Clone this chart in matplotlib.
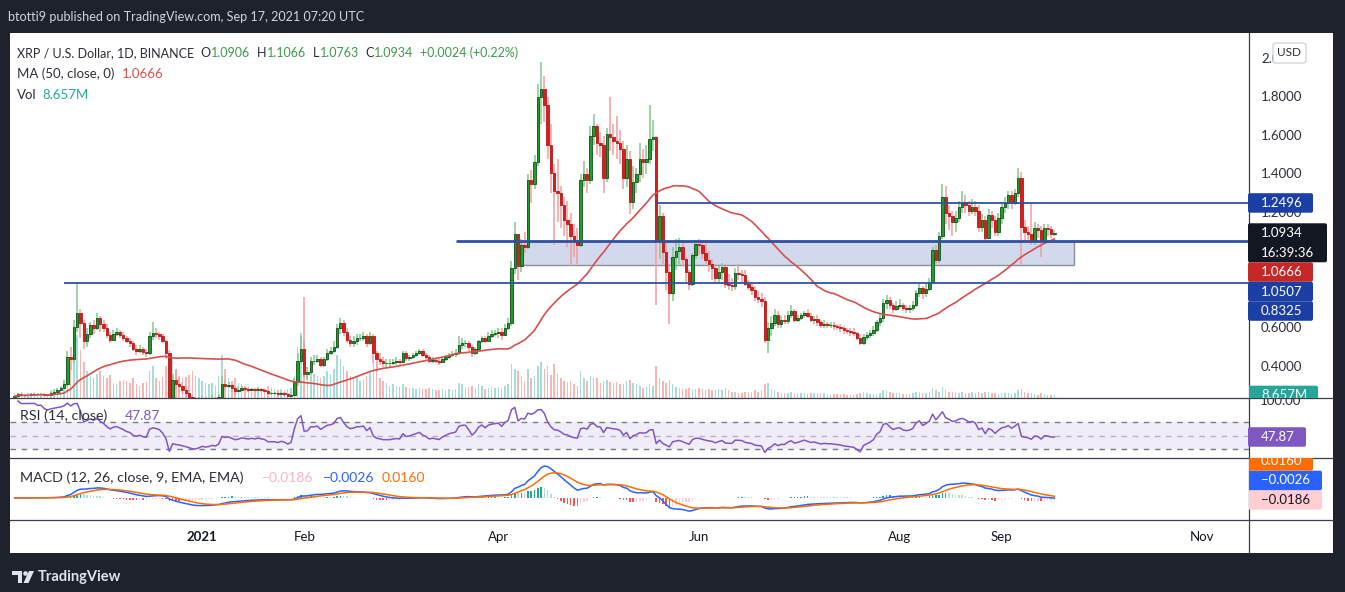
import numpy as np
import pandas as pd
import matplotlib
matplotlib.use("Agg")
import matplotlib.pyplot as plt
import matplotlib.dates as mdates
from matplotlib.patches import Rectangle, FancyBboxPatch, Polygon, Circle

W, H = 1345, 592
plt.rcParams["font.family"] = ["Lato", "DejaVu Sans"]

# --- XRP / USD daily candles, 2020-11-05 .. 2021-09-17 ---
FIRST_OPEN = 0.240
closes = [
    # Nov
    0.245, 0.255, 0.25, 0.25, 0.252, 0.255, 0.258, 0.255, 0.257, 0.252, 0.25, 0.262, 0.27, 0.28, 0.29, 0.31,
    0.45, 0.44, 0.605, 0.68, 0.625, 0.53, 0.57, 0.615, 0.60, 0.65,
    # Dec
    0.62, 0.60, 0.565, 0.54, 0.57, 0.58, 0.565, 0.55, 0.53, 0.52, 0.49, 0.48, 0.49, 0.475, 0.47, 0.56,
    0.575, 0.57, 0.56, 0.53, 0.47, 0.23, 0.33, 0.31, 0.30, 0.28, 0.26, 0.24, 0.21, 0.21, 0.22,
    # Jan
    0.235, 0.22, 0.225, 0.235, 0.225, 0.24, 0.31, 0.30, 0.305, 0.29, 0.275, 0.28, 0.29, 0.285, 0.28, 0.285,
    0.28, 0.285, 0.28, 0.275, 0.26, 0.26, 0.26, 0.255, 0.26, 0.255, 0.245, 0.25, 0.32, 0.43, 0.49,
    # Feb
    0.36, 0.37, 0.43, 0.43, 0.44, 0.41, 0.44, 0.47, 0.48, 0.50, 0.60, 0.625, 0.58, 0.54, 0.52, 0.53,
    0.55, 0.55, 0.56, 0.52, 0.56, 0.47, 0.44, 0.43, 0.42, 0.42, 0.42, 0.425,
    # Mar
    0.43, 0.425, 0.47, 0.445, 0.45, 0.46, 0.47, 0.48, 0.46, 0.45, 0.43, 0.435, 0.43, 0.425, 0.44, 0.45,
    0.46, 0.465, 0.47, 0.51, 0.52, 0.52, 0.50, 0.47, 0.49, 0.53, 0.55, 0.535, 0.56, 0.57, 0.575,
    # Apr
    0.58, 0.565, 0.60, 0.625, 0.91, 1.09, 0.92, 1.03, 1.02, 1.37, 1.35, 1.46, 1.80, 1.84, 1.76, 1.55,
    1.405, 1.31, 1.30, 1.24, 1.16, 1.14, 1.08, 1.05, 1.03, 1.37, 1.40, 1.37, 1.60, 1.65,
    # May
    1.56, 1.55, 1.38, 1.61, 1.59, 1.57, 1.56, 1.53, 1.38, 1.48, 1.255, 1.36, 1.40, 1.48, 1.46, 1.48,
    1.58, 1.59, 1.05, 1.18, 0.995, 0.89, 0.78, 0.97, 1.00, 1.02, 0.96, 0.89, 0.83, 0.98, 1.035,
    # Jun
    1.03, 0.99, 0.955, 0.93, 0.91, 0.86, 0.89, 0.915, 0.83, 0.825, 0.82, 0.885, 0.88, 0.875, 0.83, 0.815,
    0.80, 0.76, 0.75, 0.74, 0.54, 0.60, 0.625, 0.67, 0.62, 0.64, 0.635, 0.67, 0.69, 0.64,
    # Jul
    0.65, 0.665, 0.68, 0.66, 0.64, 0.645, 0.63, 0.615, 0.62, 0.615, 0.615, 0.61, 0.605, 0.60, 0.59, 0.585,
    0.58, 0.575, 0.55, 0.52, 0.555, 0.565, 0.575, 0.59, 0.63, 0.65, 0.73, 0.745, 0.72, 0.70, 0.715,
    # Aug
    0.72, 0.705, 0.70, 0.705, 0.72, 0.78, 0.81, 0.78, 0.805, 0.84, 1.005, 0.955, 1.08, 1.28, 1.20, 1.18,
    1.15, 1.17, 1.23, 1.255, 1.24, 1.21, 1.23, 1.21, 1.125, 1.16, 1.07, 1.185, 1.16, 1.10, 1.17,
    # Sep
    1.23, 1.25, 1.29, 1.25, 1.30, 1.38, 1.125, 1.10, 1.09, 1.05, 1.12, 1.11, 1.05, 1.12, 1.115, 1.0906, 1.0934,
]
highs = [
    0.25, 0.26, 0.258, 0.256, 0.258, 0.26, 0.262, 0.262, 0.262, 0.26, 0.256, 0.266, 0.278, 0.29, 0.30, 0.33,
    0.48, 0.50, 0.64, 0.8325, 0.70, 0.64, 0.60, 0.63, 0.64, 0.68,
    0.66, 0.64, 0.62, 0.58, 0.59, 0.60, 0.59, 0.58, 0.56, 0.55, 0.53, 0.51, 0.51, 0.50, 0.49, 0.58,
    0.63, 0.60, 0.58, 0.57, 0.54, 0.48, 0.36, 0.38, 0.34, 0.32, 0.30, 0.28, 0.25, 0.23, 0.24,
    0.245, 0.24, 0.235, 0.25, 0.24, 0.255, 0.35, 0.33, 0.32, 0.31, 0.30, 0.295, 0.30, 0.30, 0.295, 0.29,
    0.29, 0.295, 0.29, 0.285, 0.28, 0.27, 0.27, 0.265, 0.27, 0.265, 0.26, 0.26, 0.34, 0.47, 0.56,
    0.76, 0.40, 0.45, 0.46, 0.46, 0.45, 0.45, 0.49, 0.50, 0.53, 0.62, 0.65, 0.64, 0.60, 0.56, 0.56,
    0.57, 0.57, 0.58, 0.57, 0.58, 0.57, 0.48, 0.47, 0.45, 0.44, 0.44, 0.44,
    0.45, 0.44, 0.48, 0.48, 0.46, 0.47, 0.48, 0.49, 0.49, 0.47, 0.46, 0.45, 0.44, 0.44, 0.45, 0.46,
    0.47, 0.48, 0.49, 0.56, 0.55, 0.54, 0.53, 0.51, 0.50, 0.54, 0.56, 0.56, 0.58, 0.59, 0.59,
    0.60, 0.60, 0.62, 0.65, 0.95, 1.15, 1.08, 1.06, 1.10, 1.40, 1.42, 1.50, 1.87, 1.98, 1.91, 1.80,
    1.66, 1.45, 1.48, 1.34, 1.28, 1.26, 1.20, 1.14, 1.12, 1.40, 1.47, 1.43, 1.65, 1.71,
    1.66, 1.62, 1.60, 1.64, 1.80, 1.66, 1.70, 1.63, 1.57, 1.55, 1.52, 1.44, 1.43, 1.56, 1.53, 1.55,
    1.76, 1.68, 1.60, 1.24, 1.20, 1.04, 0.93, 1.02, 1.06, 1.07, 1.04, 0.97, 0.90, 0.99, 1.05,
    1.06, 1.05, 1.04, 1.00, 0.96, 0.93, 0.92, 0.94, 0.92, 0.88, 0.86, 0.91, 0.93, 0.90, 0.90, 0.85,
    0.83, 0.82, 0.79, 0.78, 0.76, 0.63, 0.66, 0.70, 0.69, 0.66, 0.67, 0.69, 0.72, 0.70,
    0.67, 0.68, 0.69, 0.70, 0.68, 0.66, 0.67, 0.64, 0.64, 0.63, 0.63, 0.63, 0.62, 0.62, 0.61, 0.60,
    0.60, 0.60, 0.58, 0.57, 0.57, 0.58, 0.59, 0.61, 0.64, 0.68, 0.75, 0.77, 0.76, 0.73, 0.74,
    0.75, 0.73, 0.72, 0.72, 0.74, 0.80, 0.84, 0.82, 0.83, 0.86, 1.02, 1.03, 1.10, 1.35, 1.34, 1.24,
    1.21, 1.21, 1.26, 1.31, 1.29, 1.26, 1.27, 1.26, 1.24, 1.19, 1.18, 1.22, 1.21, 1.18, 1.20,
    1.25, 1.28, 1.31, 1.31, 1.32, 1.43, 1.41, 1.16, 1.13, 1.25, 1.15, 1.14, 1.13, 1.14, 1.14, 1.13, 1.1066,
]
lows = [
    0.238, 0.243, 0.245, 0.244, 0.246, 0.248, 0.25, 0.25, 0.25, 0.247, 0.245, 0.248, 0.258, 0.268, 0.275, 0.285,
    0.30, 0.38, 0.42, 0.58, 0.55, 0.49, 0.50, 0.55, 0.57, 0.59,
    0.58, 0.58, 0.55, 0.52, 0.53, 0.56, 0.55, 0.53, 0.52, 0.50, 0.48, 0.46, 0.47, 0.46, 0.45, 0.46,
    0.54, 0.55, 0.54, 0.52, 0.44, 0.20, 0.22, 0.28, 0.27, 0.26, 0.24, 0.21, 0.18, 0.19, 0.20,
    0.21, 0.21, 0.215, 0.22, 0.215, 0.22, 0.235, 0.28, 0.29, 0.27, 0.25, 0.265, 0.275, 0.275, 0.27, 0.275,
    0.27, 0.275, 0.27, 0.265, 0.25, 0.25, 0.25, 0.245, 0.25, 0.245, 0.24, 0.24, 0.245, 0.30, 0.42,
    0.34, 0.33, 0.36, 0.41, 0.42, 0.40, 0.40, 0.43, 0.46, 0.47, 0.49, 0.57, 0.56, 0.52, 0.50, 0.50,
    0.51, 0.53, 0.53, 0.50, 0.51, 0.42, 0.37, 0.41, 0.40, 0.40, 0.40, 0.41,
    0.41, 0.41, 0.42, 0.43, 0.43, 0.44, 0.45, 0.46, 0.45, 0.44, 0.42, 0.42, 0.42, 0.41, 0.42, 0.43,
    0.44, 0.45, 0.45, 0.46, 0.49, 0.50, 0.48, 0.45, 0.46, 0.48, 0.52, 0.52, 0.53, 0.55, 0.56,
    0.55, 0.54, 0.56, 0.59, 0.61, 0.88, 0.85, 0.89, 0.99, 1.01, 1.25, 1.32, 1.44, 1.66, 1.67, 1.48,
    1.30, 1.03, 1.15, 1.12, 1.08, 1.02, 0.92, 0.97, 0.93, 1.02, 1.33, 1.30, 1.35, 1.55,
    1.50, 1.49, 1.30, 1.36, 1.52, 1.50, 1.48, 1.45, 1.32, 1.33, 1.19, 1.22, 1.30, 1.36, 1.38, 1.40,
    1.45, 1.52, 0.72, 0.96, 0.93, 0.80, 0.62, 0.74, 0.90, 0.93, 0.92, 0.84, 0.80, 0.82, 0.96,
    0.98, 0.96, 0.93, 0.89, 0.85, 0.84, 0.83, 0.85, 0.81, 0.80, 0.79, 0.80, 0.85, 0.84, 0.82, 0.80,
    0.77, 0.74, 0.73, 0.71, 0.52, 0.47, 0.56, 0.61, 0.60, 0.60, 0.62, 0.62, 0.65, 0.63,
    0.63, 0.64, 0.65, 0.65, 0.63, 0.62, 0.61, 0.60, 0.60, 0.60, 0.60, 0.59, 0.59, 0.58, 0.57, 0.57,
    0.56, 0.56, 0.54, 0.51, 0.51, 0.54, 0.55, 0.56, 0.58, 0.61, 0.63, 0.70, 0.70, 0.68, 0.69,
    0.70, 0.69, 0.68, 0.68, 0.69, 0.71, 0.76, 0.75, 0.76, 0.79, 0.83, 0.93, 0.94, 1.06, 1.14, 1.11,
    1.08, 1.10, 1.15, 1.20, 1.20, 1.18, 1.19, 1.18, 1.10, 1.10, 1.05, 1.06, 1.12, 1.08, 1.08,
    1.14, 1.20, 1.22, 1.22, 1.24, 1.28, 0.93, 1.04, 1.04, 1.03, 1.03, 1.07, 0.97, 1.04, 1.08, 1.07, 1.0763,
]
volumes = [  # millions
    20, 18, 22, 15, 18, 20, 25, 18, 20, 15, 14, 30, 35, 40, 45, 70,
    160, 150, 240, 260, 200, 150, 110, 90, 80, 100,
    110, 90, 80, 95, 60, 55, 70, 75, 70, 60, 80, 55, 50, 60, 65, 110,
    130, 80, 70, 85, 130, 200, 170, 120, 90, 80, 85, 95, 110, 90, 80,
    70, 60, 55, 60, 50, 90, 180, 120, 80, 70, 80, 60, 55, 50, 45, 40,
    35, 40, 35, 40, 50, 45, 35, 30, 35, 30, 35, 40, 90, 210, 270,
    240, 110, 130, 100, 90, 80, 90, 110, 100, 120, 180, 160, 130, 110, 90, 80,
    85, 70, 75, 90, 110, 150, 140, 80, 70, 60, 50, 55,
    50, 45, 55, 45, 40, 40, 35, 40, 35, 35, 40, 35, 30, 30, 35, 30,
    35, 30, 35, 60, 55, 45, 45, 50, 40, 55, 50, 35, 40, 45, 40,
    45, 40, 50, 55, 140, 120, 110, 90, 70, 120, 80, 90, 130, 150, 120, 130,
    95, 140, 100, 80, 70, 65, 70, 55, 50, 110, 80, 70, 90, 80,
    80, 60, 70, 75, 65, 60, 65, 55, 55, 70, 75, 60, 55, 50, 40, 45,
    55, 50, 130, 80, 70, 60, 75, 55, 45, 40, 35, 35, 40, 35, 35,
    40, 35, 30, 35, 30, 30, 35, 30, 40, 30, 25, 25, 20, 20, 25, 25,
    25, 30, 25, 30, 55, 60, 35, 30, 25, 20, 20, 20, 25, 20,
    20, 20, 18, 15, 18, 20, 18, 20, 18, 15, 12, 15, 15, 15, 15, 12,
    12, 12, 15, 20, 25, 18, 15, 15, 15, 18, 30, 30, 25, 20, 18,
    18, 15, 15, 15, 18, 22, 25, 20, 20, 22, 40, 30, 25, 45, 30, 25,
    25, 22, 20, 22, 20, 18, 22, 18, 25, 20, 25, 25, 18, 18, 15,
    18, 18, 20, 15, 18, 30, 35, 25, 18, 20, 15, 12, 18, 15, 12, 12, 8.657,
]

# --- drawings on the chart ---
ray_levels = [1.2496, 1.0507, 0.8325]
ray_starts = ["2021-05-19", "2021-03-19", "2020-11-20"]
ray_widths = [1.3, 2.0, 1.3]
zone_top, zone_bottom = 1.0507, 0.925
zone_start, zone_end = "2021-04-08", "2021-09-23"

# --- legend values shown by TradingView ---
legend_ohlc = [("O", "1.0906"), ("H", "1.1066"), ("L", "1.0763"), ("C", "1.0934")]
legend_change = "+0.0024 (+0.22%)"
ma_last, vol_last, rsi_last = 1.0666, 8.657, 47.87
macd_last = [(-0.0186, "#ffcdd2", "#131722"), (-0.0026, "#2962ff", "white"), (0.0160, "#ff6d00", "white")]
countdown = "16:39:36"
price_ticks = [2.0, 1.8, 1.6, 1.4, 1.2, 0.6, 0.4]   # 1.0 and 0.8 sit under the labels
month_ticks = ["2021-01-01", "2021-02-01", "2021-04-01", "2021-06-01", "2021-08-01", "2021-09-01", "2021-11-01"]
month_labels = ["2021", "Feb", "Apr", "Jun", "Aug", "Sep", "Nov"]

# --- indicators ---
dates = pd.date_range("2020-11-05", periods=len(closes), freq="D")
x = mdates.date2num(dates)
c = np.array(closes)
o = np.r_[FIRST_OPEN, c[:-1]]
hi = np.maximum(np.array(highs), np.maximum(o, c))
lo = np.minimum(np.array(lows), np.minimum(o, c))
up = c >= o

s = pd.Series(c)
ma50 = s.rolling(50, min_periods=1).mean()
delta = s.diff()
avg_gain = delta.clip(lower=0).ewm(alpha=1 / 14, adjust=False).mean()
avg_loss = (-delta.clip(upper=0)).ewm(alpha=1 / 14, adjust=False).mean()
rsi = 100 - 100 / (1 + avg_gain / avg_loss)
macd = s.ewm(span=12, adjust=False).mean() - s.ewm(span=26, adjust=False).mean()
signal = macd.ewm(span=9, adjust=False).mean()
hist = macd - signal
prev = hist.shift(1).fillna(0)
hist_colors = np.where(hist >= 0, np.where(hist >= prev, "#26a69a", "#b2dfdb"),
                       np.where(hist < prev, "#ff5252", "#ffcdd2"))

# --- layout (pixel based) ---
PMIN, PMAX = 0.2390, 2.1325
RMIN, RMAX = 17.4, 105.1
VMAX = 1527
mx = max(macd.max(), signal.max())
MMIN, MMAX = -0.6875 * mx, 1.25 * mx
anchor = mdates.date2num(pd.Timestamp("2021-06-01"))
PXD = 3.29
XL = (anchor + (10 - 699) / PXD, anchor + (1249 - 699) / PXD)

fig = plt.figure(figsize=(W / 100, H / 100), dpi=100, facecolor="#1e222d")
fig.add_artist(Rectangle((10 / W, 1 - 553 / H), 1323 / W, 520 / H, transform=fig.transFigure,
                         fc="white", ec="none", zorder=-5))


def panel(y0, y1, z):
    a = fig.add_axes([10 / W, 1 - y1 / H, 1239 / W, (y1 - y0) / H], zorder=z)
    a.set_facecolor("none")
    a.set_xlim(*XL)
    return a


ax_vol = panel(33, 397.5, 1)
ax_vol.bar(x, volumes, width=0.45, color=np.where(up, "#a8dcd6", "#f7b5b3"), linewidth=0)
ax_vol.set_ylim(0, VMAX)
ax_vol.set_axis_off()

ax = panel(33, 397.5, 2)
ax.set_ylim(PMIN, PMAX)
ax.add_patch(Rectangle((mdates.datestr2num(zone_start), zone_bottom),
                       mdates.datestr2num(zone_end) - mdates.datestr2num(zone_start),
                       zone_top - zone_bottom, fc="#d3d9ec", ec="#8d909a", lw=1.0, zorder=1))
ax.vlines(x, lo, hi, colors=np.where(up, "#85c98a", "#f29c9c"), lw=1.1, zorder=2)
ax.bar(x, c - o, bottom=o, width=0.75, color=np.where(up, "#1f9e2c", "#d81e1e"),
       edgecolor=np.where(up, "#124d1a", "#b51717"), linewidth=0.6, zorder=3)
ax.plot(x, ma50, color="#d64f4f", lw=1.2, zorder=4)
for lvl, start, lw in zip(ray_levels, ray_starts, ray_widths):
    ax.hlines(lvl, mdates.datestr2num(start), XL[1], color="#2f50a6", lw=lw, zorder=5)
ax.set_axis_off()

ax_r = panel(397.5, 458, 2)
ax_r.set_ylim(RMIN, RMAX)
ax_r.axhspan(30, 70, color="#7e57c2", alpha=0.1, lw=0)
for lvl, al in [(70, 1), (50, 0.5), (30, 1)]:
    ax_r.axhline(lvl, color="#787b86", lw=1, dashes=(4, 4), alpha=al)
ax_r.plot(x, rsi, color="#7e57c2", lw=1.1)
ax_r.set_axis_off()

ax_m = panel(458, 520, 2)
ax_m.set_ylim(MMIN, MMAX)
ax_m.bar(x, hist, width=0.45, color=hist_colors, linewidth=0)
ax_m.plot(x, macd, color="#2962ff", lw=1.1)
ax_m.plot(x, signal, color="#ff6d00", lw=1.1)
for sp in ax_m.spines.values():
    sp.set_visible(False)
ax_m.set_yticks([])
ax_m.set_xticks([mdates.datestr2num(d) for d in month_ticks])
ax_m.set_xticklabels(month_labels)
ax_m.tick_params(axis="x", length=0, pad=8, labelsize=9.5, labelcolor="#131722")
ax_m.get_xticklabels()[0].set_fontweight("bold")

# --- overlay in pixel coordinates ---
ov = fig.add_axes([0, 0, 1, 1], zorder=10)
ov.set_xlim(0, W)
ov.set_ylim(H, 0)
ov.set_axis_off()
ov.patch.set_alpha(0)
renderer = fig.canvas.get_renderer()


def py(p):
    return 33 + (PMAX - p) / (PMAX - PMIN) * 364.5


def ry(r):
    return 397.5 + (RMAX - r) / (RMAX - RMIN) * 60.5


def my(v):
    return 458 + (MMAX - v) / (MMAX - MMIN) * 62


def label_box(top, lines, fc, tc, x1, clip=None):
    h = 19.5 * len(lines)
    b = FancyBboxPatch((1248, top), x1 - 1248, h, boxstyle="round,pad=0,rounding_size=2",
                       fc=fc, ec="none", zorder=5)
    ov.add_patch(b)
    arts = [b]
    for i, t in enumerate(lines):
        arts.append(ov.text(1261, top + 9.75 + 19.5 * i, t, color=tc, fontsize=9.5,
                            va="center", ha="left", zorder=6))
    if clip is not None:
        for a in arts:
            a.set_clip_path(clip)
            a.set_clip_on(True)
    return top + h


def txt(x0, y0, s, color, size=9.5):
    return ov.text(x0, y0, s, color=color, fontsize=size, va="center", ha="left")


def flow(x0, y0, pieces, size):
    for s_, color, gap in pieces:
        t = txt(x0, y0, s_, color, size)
        x0 += t.get_window_extent(renderer=renderer).width + gap


# header and footer
txt(8, 17, "btotti9 published on TradingView.com, Sep 17, 2021 07:20 UTC", "#d1d4dc", 9.05)
ov.add_patch(Polygon([(12, 571), (22, 571), (22, 583), (17.5, 583), (17.5, 575), (12, 575)], fc="#e0e3eb"))
ov.add_patch(Circle((25.5, 573.5), 2.3, fc="#e0e3eb"))
ov.add_patch(Polygon([(23.5, 583), (29, 571), (34, 571), (28.5, 583)], fc="#e0e3eb"))
ov.text(38, 577.5, "TradingView", color="#e0e3eb", fontsize=10.5, fontweight="bold", va="center")

# separators
for yy in (397.5, 458, 520):
    ov.plot([10, 1333], [yy, yy], color="#3b3f4a", lw=0.9, zorder=4)
ov.plot([1249, 1249], [33, 553], color="#3b3f4a", lw=0.9, zorder=4)

# legends
dark, green = "#2a2e39", "#3c9a4c"
pieces = [("XRP / U.S. Dollar, 1D, BINANCE", dark, 6.5)]
for k, v in legend_ohlc:
    pieces += [(k, dark, 0.5), (v, green, 6.5)]
pieces.append((legend_change, green, 0))
flow(17, 53, pieces, 9.0)
txt(17, 74, "MA (50, close, 0)", dark)
txt(122, 74, f"{ma_last:.4f}", "#d64f4f")
txt(17, 95, "Vol", dark)
txt(42, 95, f"{vol_last:.3f}M", "#26a69a")
txt(20, 416, "RSI (14, close)", dark, 10.3)
txt(125, 416, f"{rsi_last:.2f}", "#7e57c2", 10)
txt(20, 478, "MACD (12, 26, close, 9, EMA, EMA)", dark, 10.3)
for (v, col, _), xv in zip(macd_last, [262, 323, 382]):
    txt(xv, 478, f"{v:.4f}".replace("-", "\u2212"), "#f5b8c2" if col == "#ffcdd2" else col, 10)

# price scale
for p in price_ticks:
    ov.text(1261, py(p), f"{p:.4f}", color=dark, fontsize=9.5, va="center", ha="left", zorder=3)
ov.add_patch(FancyBboxPatch((1273, 43), 33, 20, boxstyle="round,pad=0,rounding_size=3",
                            fc="white", ec="#d1d4dc", lw=1, zorder=7))
ov.text(1289.5, 53, "USD", color=dark, fontsize=8.5, ha="center", va="center", zorder=8)

price_labels = sorted([
    (ray_levels[0], [f"{ray_levels[0]:.4f}"], "#1c3fa5", "white", 1313),
    (c[-1], [f"{c[-1]:.4f}", countdown], "#131722", "white", 1327),
    (ma_last, [f"{ma_last:.4f}"], "#c62828", "white", 1313),
    (ray_levels[1], [f"{ray_levels[1]:.4f}"], "#1c3fa5", "white", 1313),
    (ray_levels[2], [f"{ray_levels[2]:.4f}"], "#1c3fa5", "white", 1313),
], key=lambda t: -t[0])
bottom = -1e9
for val, lines, fc, tc, x1 in price_labels:
    top = max(py(val) - 9.75, bottom)
    bottom = label_box(top, lines, fc, tc, x1)

clip_price = Rectangle((1249, 33), 84, 364.5, transform=ov.transData)
clip_rsi = Rectangle((1249, 397.5), 84, 60.5, transform=ov.transData)
clip_macd = Rectangle((1249, 458), 84, 62, transform=ov.transData)
vol_y = 397.5 - vol_last / VMAX * 364.5
label_box(vol_y - 9.75, [f"{vol_last:.3f}M"], "#26a69a", "white", 1318, clip=clip_price)

t100 = ov.text(1260, ry(100), "100.00", color=dark, fontsize=9.5, va="center", ha="left")
t100.set_clip_path(clip_rsi)
t100.set_clip_on(True)
label_box(ry(rsi_last) - 9.75, [f"{rsi_last:.2f}"], "#7e57c2", "white", 1306)

top = 1e9
for v, fc, tc in macd_last:
    h_top = min(my(v) + 9.75, top) - 19.5
    label_box(h_top, [f"{v:.4f}".replace("-", "\u2212")], fc, tc,
              1322 if v < 0 else 1313, clip=clip_macd)
    top = h_top

fig.savefig("out.png", dpi=100, facecolor=fig.get_facecolor())
